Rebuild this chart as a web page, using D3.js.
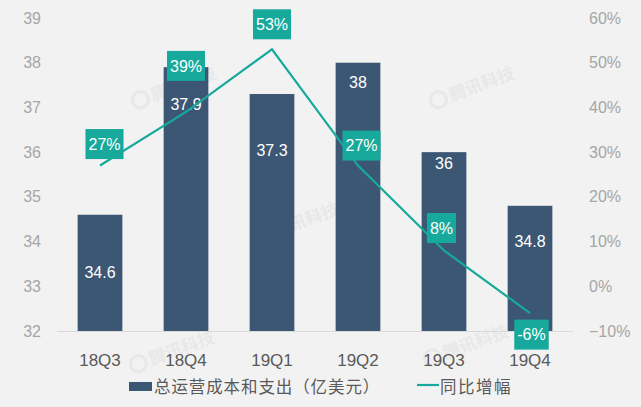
<!DOCTYPE html>
<html><head><meta charset="utf-8">
<script src="https://cdn.jsdelivr.net/npm/d3@7"></script>
<style>
html,body{margin:0;padding:0;background:#f2f2f2;}
svg{display:block;font-family:"Liberation Sans",Arial,sans-serif;}
</style></head>
<body>
<svg id="chart" width="641" height="407"></svg>
<script>
const categories = ["18Q3","18Q4","19Q1","19Q2","19Q3","19Q4"];
const costValues = [34.6, 37.9, 37.3, 38, 36, 34.8];
const growthValues = [0.27, 0.39, 0.53, 0.27, 0.08, -0.06];
const growthLabels = ["27%","39%","53%","27%","8%","-6%"];
const leftTicks = [32,33,34,35,36,37,38,39];
const rightTicks = [-0.1,0,0.1,0.2,0.3,0.4,0.5,0.6];
const barSeriesName = "总运营成本和支出（亿美元）";
const lineSeriesName = "同比增幅";
// label placement (layout, not data)
const barLabelAt = [33.32, 37.06, 36.05, 37.57, 35.74, 34.01];
const growthLabelOffset = [[4.5,-21.5],[0,-46],[0,-25],[3.5,-20],[-2.5,-22.5],[1.5,21.5]];

const svg = d3.select("#chart");
const barColor = "#3b5774", teal = "#17a99b", axisText = "#a6a6a6", darkText = "#595959";
const CJK = "'Noto Sans CJK SC','Liberation Sans',sans-serif";
const LAT = "'Liberation Sans',Arial,sans-serif";

const x = d3.scaleBand().domain(categories).range([57,573]).paddingInner(0.48).paddingOuter(0.24);
const yL = d3.scaleLinear().domain([32,39]).range([331,18]);
const yR = d3.scaleLinear().domain([-0.1,0.6]).range([331,18]);

// watermarks
const wm = [[178,86],[476,86],[300,222],[176,350],[470,344]];
wm.forEach(([cx,cy])=>{
  const g = svg.append("g").attr("transform",`translate(${cx},${cy}) rotate(-20)`).attr("opacity",0.35);
  g.append("circle").attr("r",8).attr("cx",-40).attr("fill","none").attr("stroke","#d6d6d6").attr("stroke-width",3);
  g.append("text").attr("x",-28).attr("y",6).attr("font-size",17).attr("font-family",CJK)
    .attr("fill","#d6d6d6").attr("font-weight","bold").text("腾讯科技");
});

// left axis
const axL = d3.axisLeft(yL).tickValues(leftTicks).tickSize(0).tickPadding(0).tickFormat(d3.format("d"));
const gL = svg.append("g").attr("transform","translate(41,0)").call(axL);
gL.select(".domain").remove();
gL.selectAll("text").attr("fill",axisText).attr("font-size",16).attr("font-family",LAT);

// right axis
const axR = d3.axisRight(yR).tickValues(rightTicks).tickSize(0).tickPadding(0).tickFormat(d3.format(".0%"));
const gR = svg.append("g").attr("transform","translate(589,0)").call(axR);
gR.select(".domain").remove();
gR.selectAll("text").attr("fill",axisText).attr("font-size",16).attr("font-family",LAT);

// bars
svg.append("g").selectAll("rect").data(costValues).join("rect")
  .attr("x",(d,i)=>x(categories[i])).attr("width",x.bandwidth())
  .attr("y",d=>yL(d)).attr("height",d=>yL(32)-yL(d)).attr("fill",barColor);

// baseline
svg.append("line").attr("x1",57).attr("x2",573).attr("y1",yL(32)+0.5).attr("y2",yL(32)+0.5)
  .attr("stroke","#d9d9d9").attr("stroke-width",1);

// bar labels
svg.append("g").selectAll("text").data(costValues).join("text")
  .attr("x",(d,i)=>x(categories[i])+x.bandwidth()/2).attr("y",(d,i)=>yL(barLabelAt[i]))
  .attr("dy","0.35em").attr("text-anchor","middle").attr("fill","#fff").attr("font-size",16)
  .attr("font-family",LAT).text(d=>d);

// x labels
const axB = d3.axisBottom(x).tickSize(0).tickPadding(0);
const gB = svg.append("g").attr("transform","translate(0,354)").call(axB);
gB.select(".domain").remove();
gB.selectAll("text").attr("fill",darkText).attr("font-size",17).attr("dy","0.71em").attr("font-family",LAT);

// line
const cx = i=>x(categories[i])+x.bandwidth()/2;
const line = d3.line().x((d,i)=>cx(i)).y(d=>yR(d));
svg.append("path").datum(growthValues).attr("d",line).attr("fill","none")
  .attr("stroke",teal).attr("stroke-width",2.2);

// growth labels
const gl = svg.append("g").selectAll("g").data(growthValues).join("g")
  .attr("transform",(d,i)=>`translate(${cx(i)+growthLabelOffset[i][0]},${yR(d)+growthLabelOffset[i][1]})`);
gl.each(function(d,i){
  const g = d3.select(this);
  const t = g.append("text").attr("text-anchor","middle").attr("dy","0.36em").attr("fill","#fff")
    .attr("font-size",16).attr("font-family",LAT).text(growthLabels[i]);
  const w = t.node().getComputedTextLength()+6;
  g.insert("rect","text").attr("x",-w/2).attr("y",-15).attr("width",w).attr("height",30).attr("fill",teal);
});

// legend
svg.append("rect").attr("x",129).attr("y",382).attr("width",23).attr("height",9).attr("fill",barColor);
svg.append("text").attr("x",154).attr("y",387).attr("dy","0.35em").attr("font-size",16.5)
  .attr("letter-spacing",0.9).attr("font-family",CJK).attr("fill",darkText).text(barSeriesName);
svg.append("line").attr("x1",417).attr("x2",439).attr("y1",385).attr("y2",385).attr("stroke",teal).attr("stroke-width",2.2);
svg.append("text").attr("x",440).attr("y",387).attr("dy","0.35em").attr("font-size",16.5)
  .attr("letter-spacing",1.5).attr("font-family",CJK).attr("fill",darkText).text(lineSeriesName);
</script>
</body></html>
